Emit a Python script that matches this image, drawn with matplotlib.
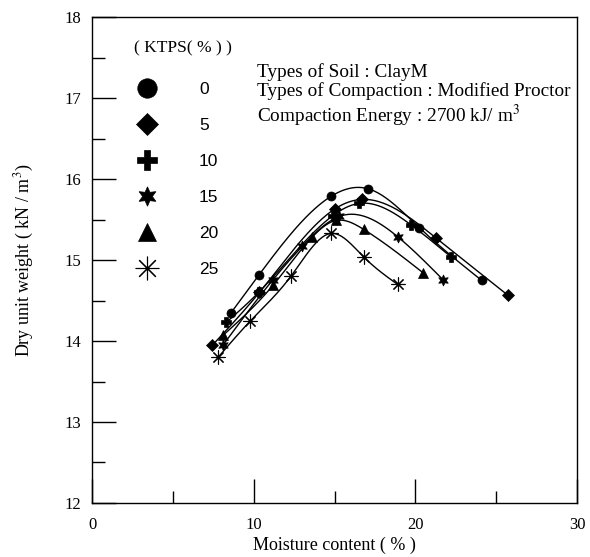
import numpy as np
import matplotlib.pyplot as plt
from matplotlib.ticker import MultipleLocator
from matplotlib.lines import Line2D

# KTPS content (%) and measured compaction points
ktps = ['0', '5', '10', '15', '20', '25']
markers = ['o', 'D', 'P', (6, 1, 0), '^', (8, 2, 0)]
msizes = [6.5, 6, 7.5, 8, 7, 10]
leg_sizes = [14, 11, 15, 14, 13, 17]

w0 = [8.6, 10.3, 14.8, 17.1, 20.25, 24.1]
g0 = [14.35, 14.81, 15.79, 15.88, 15.40, 14.75]
w5 = [7.45, 10.35, 15.0, 16.7, 21.3, 25.7]
g5 = [13.95, 14.6, 15.63, 15.75, 15.27, 14.57]
w10 = [8.3, 10.3, 14.9, 16.5, 19.7, 22.2]
g10 = [14.23, 14.6, 15.55, 15.7, 15.44, 15.04]
w15 = [8.1, 11.2, 13.0, 15.3, 18.9, 21.7]
g15 = [13.95, 14.76, 15.17, 15.54, 15.29, 14.76]
w20 = [8.1, 11.2, 13.6, 15.1, 16.8, 20.5]
g20 = [14.07, 14.69, 15.28, 15.49, 15.38, 14.84]
w25 = [7.8, 9.8, 12.3, 14.8, 16.8, 18.9]
g25 = [13.8, 14.25, 14.8, 15.33, 15.04, 14.7]

W = [w0, w5, w10, w15, w20, w25]
G = [g0, g5, g10, g15, g20, g25]


def spline(x, y, n=200):
    # natural cubic spline through the measured points
    x = np.asarray(x, float)
    y = np.asarray(y, float)
    k = len(x)
    h = np.diff(x)
    A = np.zeros((k, k))
    r = np.zeros(k)
    A[0, 0] = A[-1, -1] = 1
    for i in range(1, k - 1):
        A[i, i - 1] = h[i - 1]
        A[i, i] = 2 * (h[i - 1] + h[i])
        A[i, i + 1] = h[i]
        r[i] = 6 * ((y[i + 1] - y[i]) / h[i] - (y[i] - y[i - 1]) / h[i - 1])
    M = np.linalg.solve(A, r)
    xs = np.linspace(x[0], x[-1], n)
    j = np.clip(np.searchsorted(x, xs) - 1, 0, k - 2)
    t0 = x[j + 1] - xs
    t1 = xs - x[j]
    hj = h[j]
    ys = (M[j] * t0**3 + M[j + 1] * t1**3) / (6 * hj) \
        + (y[j] / hj - M[j] * hj / 6) * t0 + (y[j + 1] / hj - M[j + 1] * hj / 6) * t1
    return xs, ys


def mew(m):
    return 0.8 if m == (8, 2, 0) else 0.5


plt.rcParams['font.family'] = 'Liberation Serif'
plt.rcParams['mathtext.fontset'] = 'stix'

fig = plt.figure(figsize=(5.9, 5.57), dpi=100)
ax = fig.add_axes([0.156, 0.097, 0.822, 0.872])

for w, g, m, s in zip(W, G, markers, msizes):
    xs, ys = spline(w, g)
    ax.plot(xs, ys, color='black', lw=1)
    ax.plot(w, g, linestyle='none', marker=m, ms=s, color='black',
            mec='black', mew=mew(m))

ax.set_xlim(0, 30)
ax.set_ylim(12, 18)
ax.xaxis.set_major_locator(MultipleLocator(10))
ax.xaxis.set_minor_locator(MultipleLocator(5))
ax.yaxis.set_major_locator(MultipleLocator(1))
ax.yaxis.set_minor_locator(MultipleLocator(0.5))
ax.tick_params(which='major', direction='in', length=17, width=1, labelsize=12, pad=10)
ax.tick_params(which='minor', direction='in', length=9, width=1)
ax.tick_params(axis='y', pad=8)
for sp in ax.spines.values():
    sp.set_linewidth(1)

ax.set_xlabel('Moisture content ( % )', fontsize=13, labelpad=3)
ax.set_ylabel('Dry unit weight ( kN / m$^3$)', fontsize=13, labelpad=20)

handles = [Line2D([], [], linestyle='none', marker=m, ms=s, color='black', mew=mew(m))
           for m, s in zip(markers, leg_sizes)]
leg = ax.legend(handles, ktps, loc='upper left', bbox_to_anchor=(0.072, 0.966),
                frameon=False, title='( KTPS( % ) )', handletextpad=2.25,
                handlelength=1.5, labelspacing=1.2,
                prop={'family': 'Liberation Sans', 'size': 12.5},
                title_fontsize=12.5, borderaxespad=0)
leg._legend_box.align = 'left'
leg._legend_box.sep = 18

ax.text(0.34, 0.906, 'Types of Soil : ClayM\nTypes of Compaction : Modified Proctor\n'
        'Compaction Energy : 2700 kJ/ m$^3$', transform=ax.transAxes,
        fontsize=13.9, va='top', ha='left', linespacing=1.13)

plt.savefig('out.png', dpi=100)
